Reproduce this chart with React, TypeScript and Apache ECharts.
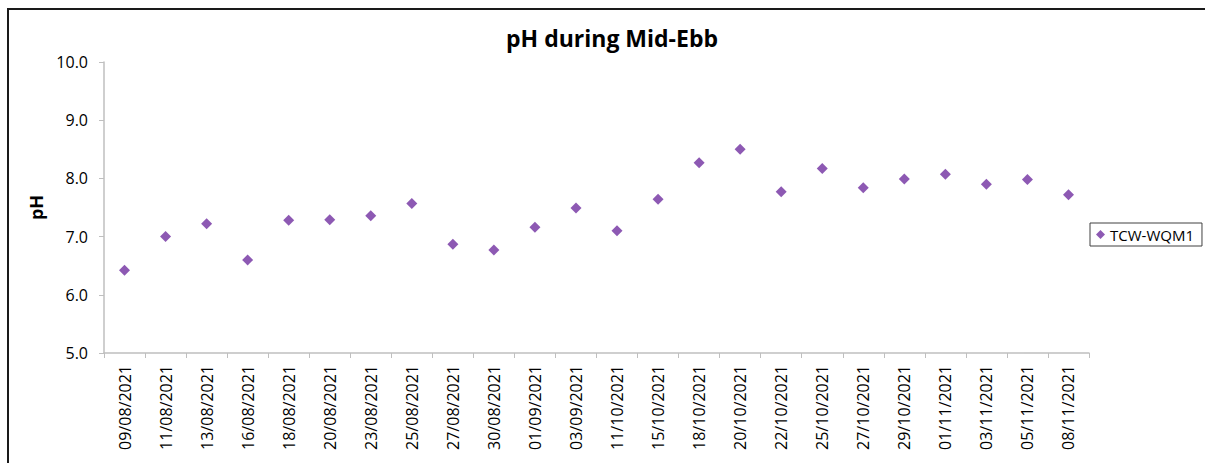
import React, { useEffect, useRef } from "react";
import * as echarts from "echarts";

const categories = [
  "09/08/2021", "11/08/2021", "13/08/2021", "16/08/2021", "18/08/2021", "20/08/2021",
  "23/08/2021", "25/08/2021", "27/08/2021", "30/08/2021", "01/09/2021", "03/09/2021",
  "11/10/2021", "15/10/2021", "18/10/2021", "20/10/2021", "22/10/2021", "25/10/2021",
  "27/10/2021", "29/10/2021", "01/11/2021", "03/11/2021", "05/11/2021", "08/11/2021",
];
const seriesName = "TCW-WQM1";
const phValues = [
  6.42, 7.0, 7.22, 6.6, 7.28, 7.29, 7.36, 7.57, 6.87, 6.77, 7.16, 7.49,
  7.1, 7.64, 8.27, 8.5, 7.77, 8.17, 7.84, 7.99, 8.07, 7.9, 7.98, 7.72,
];
const yMin = 5;
const yMax = 10;
const yInterval = 1;

const FONT = "'Open Sans', 'Noto Sans', sans-serif";

export default function App() {
  const ref = useRef<HTMLDivElement>(null);
  useEffect(() => {
    document.documentElement.style.overflow = "hidden";
    document.body.style.overflow = "hidden";
    if (!ref.current) return;
    const chart = echarts.init(ref.current, undefined, { renderer: "svg" });
    chart.setOption({
      animation: false,
      backgroundColor: "#ffffff",
      textStyle: { fontFamily: FONT },
      title: {
        text: "pH during Mid-Ebb",
        left: 598,
        top: 11,
        textAlign: "center",
        textStyle: { fontSize: 23, fontWeight: "bold", color: "#000", fontFamily: FONT },
      },
      legend: {
        left: 1081,
        top: 213,
        orient: "vertical",
        icon: "diamond",
        itemWidth: 9,
        itemHeight: 9,
        itemGap: 4,
        padding: [4, 8, 4, 6],
        borderColor: "#404040",
        borderWidth: 1,
        textStyle: { fontSize: 15, color: "#000", fontFamily: FONT },
        data: [seriesName],
      },
      grid: { left: 95, width: 985, top: 52, height: 291, containLabel: false },
      xAxis: {
        type: "category",
        data: categories,
        boundaryGap: true,
        axisLine: { lineStyle: { color: "#bfbfbf", width: 1.5 } },
        axisTick: { show: true, length: 5, alignWithLabel: false, lineStyle: { color: "#bfbfbf" } },
        axisLabel: { rotate: 90, fontSize: 16, color: "#000", margin: 12, interval: 0, fontFamily: FONT },
        splitLine: { show: false },
      },
      yAxis: {
        type: "value",
        min: yMin,
        max: yMax,
        interval: yInterval,
        name: "pH",
        nameLocation: "middle",
        nameGap: 56,
        nameRotate: 90,
        nameTextStyle: { fontSize: 18, fontWeight: "bold", color: "#000", fontFamily: FONT },
        axisLine: { show: true, lineStyle: { color: "#bfbfbf", width: 1.5 } },
        axisTick: { show: true, length: 5, lineStyle: { color: "#bfbfbf" } },
        axisLabel: {
          fontSize: 16,
          color: "#000",
          margin: 16,
          fontFamily: FONT,
          formatter: (v: number) => v.toFixed(1),
        },
        splitLine: { show: false },
      },
      series: [
        {
          name: seriesName,
          type: "scatter",
          data: phValues,
          symbol: "diamond",
          symbolSize: 11,
          itemStyle: { color: "#7030a0" },
        },
      ],
    });
    return () => chart.dispose();
  }, []);
  return (
    <div
      style={{
        position: "fixed",
        left: 7,
        top: 8,
        width: 1240,
        height: 480,
        overflow: "hidden",
        borderTop: "2px solid #1a1a1a",
        borderLeft: "2px solid #1a1a1a",
        background: "#fff",
      }}
    >
      <div ref={ref} style={{ width: 1230, height: 470 }} />
    </div>
  );
}
